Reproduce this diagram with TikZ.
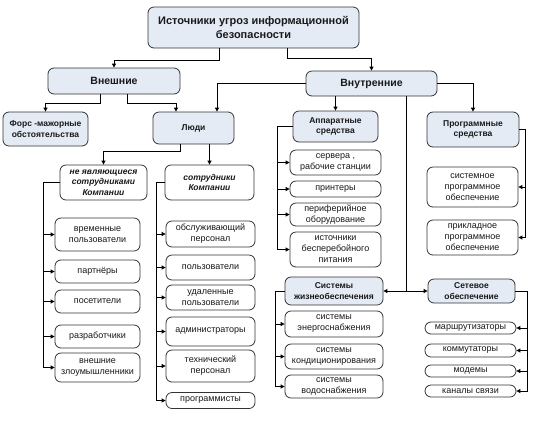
\documentclass[tikz,border=0pt]{standalone}
\usepackage{fontspec}
\setmainfont{Liberation Sans}
\usetikzlibrary{arrows.meta}
\definecolor{headfill}{HTML}{E4EBF5}
\tikzset{
	box/.style={draw=black!80, rounded corners=6pt, align=center, inner sep=0pt, line width=0.8pt, text=black!90},
	wh/.style 2 args={minimum width=#1, minimum height=#2},
	head/.style={box, fill=headfill, font=\bfseries\fontsize{8.5}{10.5}\selectfont},
	item/.style={box, fill=white, font=\fontsize{9}{11}\selectfont},
	group/.style={box, fill=white, font=\bfseries\itshape\fontsize{8.5}{10.5}\selectfont},
	link/.style={line width=0.9pt, -{Triangle[length=4pt,width=4pt]}},
	trunk/.style={line width=0.9pt},
}
\begin{document}
\begin{tikzpicture}[x=1pt,y=-1pt]
\useasboundingbox (0,0) rectangle (537,424);
% top levels
\node[head, wh={211}{41}, font=\bfseries\fontsize{11}{14}\selectfont] (title) at (253.5,27.5) {Источники угроз информационной\\безопасности};
\node[head, wh={132}{26}, font=\bfseries\fontsize{10.5}{12}\selectfont] (ext) at (114,81) {Внешние};
\node[head, wh={131}{25}, font=\bfseries\fontsize{10.5}{12}\selectfont] (int) at (371.5,83.5) {Внутренние};
\node[head, wh={85}{34}] (force) at (45.5,129) {Форс -мажорные\\обстоятельства};
\node[head, wh={81}{32}] (people) at (193.5,128) {Люди};
\node[head, wh={85}{31}] (hw) at (335.5,126.5) {Аппаратные\\средства};
\node[head, wh={92}{35}] (sw) at (473,129.5) {Программные\\средства};
\node[head, wh={98}{28}] (life) at (334,291) {Системы\\жизнеобеспечения};
\node[head, wh={87}{24}] (net) at (471.5,291) {Сетевое\\обеспечение};
\node[group, wh={87}{35}] (nonemp) at (103.5,182.5) {не являющиеся\\сотрудниками\\Компании};
\node[group, wh={89}{35}] (emp) at (209.5,182.5) {сотрудники\\Компании};

% not employees
\node[item, wh={85}{33}] (a1) at (97.5,234.5) {временные\\пользователи};
\node[item, wh={85}{23}] (a2) at (97.5,271.5) {партнёры};
\node[item, wh={85}{23}] (a3) at (97.5,301.5) {посетители};
\node[item, wh={85}{23}] (a4) at (97.5,336.5) {разработчики};
\node[item, wh={85}{29}] (a5) at (97.5,367.5) {внешние\\злоумышленники};

% employees
\node[item, wh={89}{26}] (b1) at (210.5,234) {обслуживающий\\персонал};
\node[item, wh={89}{25}] (b2) at (210.5,267.5) {пользователи};
\node[item, wh={89}{25}] (b3) at (210.5,297.5) {удаленные\\пользователи};
\node[item, wh={89}{29}] (b4) at (210.5,331.5) {администраторы};
\node[item, wh={89}{32}] (b5) at (210.5,366) {технический\\персонал};
\node[item, wh={89}{16}] (b6) at (210.5,400.5) {программисты};

% hardware
\node[item, wh={91}{25}] (c1) at (335.5,162.5) {сервера ,\\рабочие станции};
\node[item, wh={91}{16}] (c2) at (335.5,189) {принтеры};
\node[item, wh={91}{23}] (c3) at (335.5,214.5) {периферийное\\оборудование};
\node[item, wh={91}{35}] (c4) at (335.5,249.5) {источники\\бесперебойного\\питания};

% software
\node[item, wh={91}{40}] (d1) at (472.5,187) {системное\\программное\\обеспечение};
\node[item, wh={91}{35}] (d2) at (472.5,237.5) {прикладное\\программное\\обеспечение};

% life support
\node[item, wh={98}{26}] (e1) at (334,324) {системы\\энергоснабжения};
\node[item, wh={98}{25}] (e2) at (334,356.5) {системы\\кондиционирования};
\node[item, wh={98}{23}] (e3) at (334,386.5) {системы\\водоснабжения};

% network
\node[item, wh={91}{12}] (f1) at (470.5,328) {маршрутизаторы};
\node[item, wh={91}{13}] (f2) at (470.5,350.5) {коммутаторы};
\node[item, wh={91}{12}] (f3) at (470.5,371) {модемы};
\node[item, wh={91}{12}] (f4) at (470.5,391) {каналы связи};

% trunk positions
\coordinate (tA) at (43,0);
\coordinate (tB) at (156,0);
\coordinate (tC) at (277,0);
\coordinate (tD) at (525,0);
\coordinate (tE) at (275,0);
\coordinate (tF) at (527,0);
\coordinate (mid) at (406,291);

% connectors
\draw[link] ([xshift=-34.5]title.south) -- ++(0,12) -| (ext.north);
\draw[link] ([xshift=33.5]title.south) -- ++(0,10) -| (int.north);
\draw[link] ([xshift=-14]ext.south) -- ++(0,9) -| (force.north);
\draw[link] ([xshift=13]ext.south) -- ++(0,9) -| ([xshift=-17.5]people.north);
\draw[link] (int.west) -| ([xshift=23.5]people.north);
\draw[link] (hw.north |- int.south) -- (hw.north);
\draw[link] (int.east) -| (sw.north);
\draw[trunk] (mid |- int.south) -- (mid);
\draw[link] (mid) -- (life.east);
\draw[link] (mid) -- (net.west);
\draw[link] ([xshift=-13.5]people.south) -- ++(0,7) -| (nonemp.north);
\draw[link] (emp.north |- people.south) -- (emp.north);

% lists
\draw[link] (nonemp.west) -| (tA |- a5.west) -- (a5.west);
\foreach \n in {a1,a2,a3,a4} \draw[link] (tA |- \n.west) -- (\n.west);
\draw[link] (emp.west) -| (tB |- b6.west) -- (b6.west);
\foreach \n in {b1,b2,b3,b4,b5} \draw[link] (tB |- \n.west) -- (\n.west);
\draw[link] (hw.west) -| (tC |- c4.west) -- (c4.west);
\foreach \n in {c1,c2,c3} \draw[link] (tC |- \n.west) -- (\n.west);
\draw[link] (sw.east) -| (tD |- d2.east) -- (d2.east);
\draw[link] (tD |- d1.east) -- (d1.east);
\draw[link] (life.west) -| (tE |- e3.west) -- (e3.west);
\foreach \n in {e1,e2} \draw[link] (tE |- \n.west) -- (\n.west);
\draw[link] (net.east) -| (tF |- f4.east) -- (f4.east);
\foreach \n in {f1,f2,f3} \draw[link] (tF |- \n.east) -- (\n.east);
\end{tikzpicture}
\end{document}
